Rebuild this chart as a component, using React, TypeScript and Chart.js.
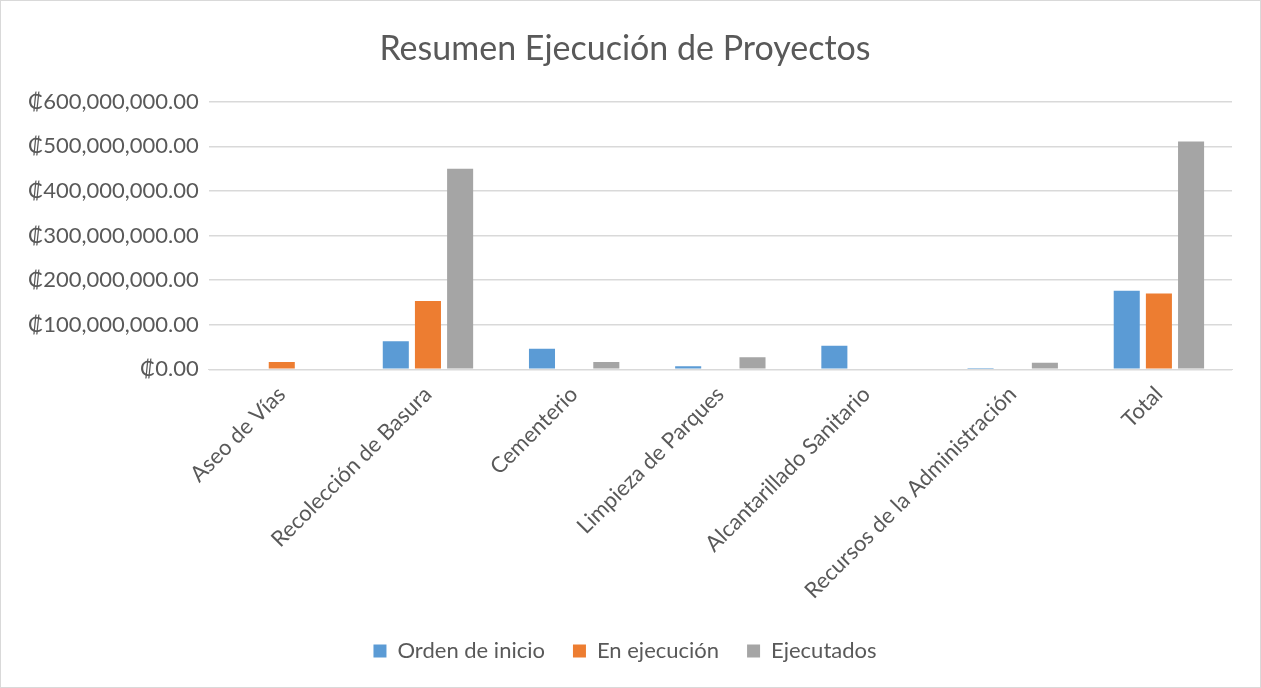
import React, { useEffect, useRef } from "react";
import { Chart, registerables } from "chart.js";

Chart.register(...registerables);

const categories = [
  "Aseo de Vías",
  "Recolección de Basura",
  "Cementerio",
  "Limpieza de Parques",
  "Alcantarillado Sanitario",
  "Recursos de la Administración",
  "Total",
];
const ordenDeInicio = [0, 63000000, 46000000, 7000000, 53000000, 3000000, 176000000];
const enEjecucion = [16500000, 153500000, 0, 0, 0, 0, 170000000];
const ejecutados = [0, 450000000, 16500000, 27000000, 0, 15000000, 511000000];
const yTicks = [0, 100000000, 200000000, 300000000, 400000000, 500000000, 600000000];

const FONT = "Lato, 'Open Sans', sans-serif";

export default function App() {
  const ref = useRef<HTMLCanvasElement>(null);
  useEffect(() => {
    document.body.style.margin = "0";
    const chart = new Chart(ref.current!, {
      type: "bar",
      data: {
        labels: categories,
        datasets: [
          { label: "Orden de inicio", data: ordenDeInicio, backgroundColor: "#5b9bd5" },
          { label: "En ejecución", data: enEjecucion, backgroundColor: "#ed7d31" },
          { label: "Ejecutados", data: ejecutados, backgroundColor: "#a5a5a5" },
        ],
      },
      options: {
        animation: false,
        responsive: false,
        maintainAspectRatio: false,
        datasets: { bar: { categoryPercentage: 0.66, barPercentage: 0.81 } },
        layout: { padding: { left: 17, right: 28, top: 20, bottom: 15 } },
        plugins: {
          title: {
            display: true,
            text: "Resumen Ejecución de Proyectos",
            color: "#595959",
            font: { family: FONT, size: 34, weight: "normal" },
            padding: { top: 8, bottom: 32 },
          },
          legend: {
            position: "bottom",
            labels: {
              color: "#595959",
              font: { family: FONT, size: 22 },
              boxWidth: 13,
              boxHeight: 13,
              padding: 28,
            },
          },
          tooltip: { enabled: false },
        },
        scales: {
          x: {
            grid: { display: false },
            border: { color: "#d9d9d9" },
            afterFit: (axis: any) => {
              axis.height = axis.height + 4;
            },
            ticks: {
              color: "#595959",
              font: { family: FONT, size: 22 },
              maxRotation: 45,
              minRotation: 45,
              padding: 4,
            },
          },
          y: {
            min: 0,
            max: 600000000,
            afterBuildTicks: (axis: any) => {
              axis.ticks = yTicks.map((v) => ({ value: v }));
            },
            grid: { color: "#d9d9d9", lineWidth: 1.5, drawTicks: false },
            border: { display: false },
            ticks: {
              color: "#595959",
              font: { family: FONT, size: 22 },
              padding: 10,
              callback: (v: any) =>
                "₡" +
                Number(v).toLocaleString("en-US", {
                  minimumFractionDigits: 2,
                  maximumFractionDigits: 2,
                }),
            },
          },
        },
      },
    });
    return () => chart.destroy();
  }, []);
  return (
    <div
      style={{
        position: "absolute",
        left: 0,
        top: 0,
        width: 1261,
        height: 688,
        boxSizing: "border-box",
        border: "1px solid #d9d9d9",
        background: "#fff",
      }}
    >
      <canvas ref={ref} width={1259} height={686} style={{ display: "block" }} />
    </div>
  );
}
